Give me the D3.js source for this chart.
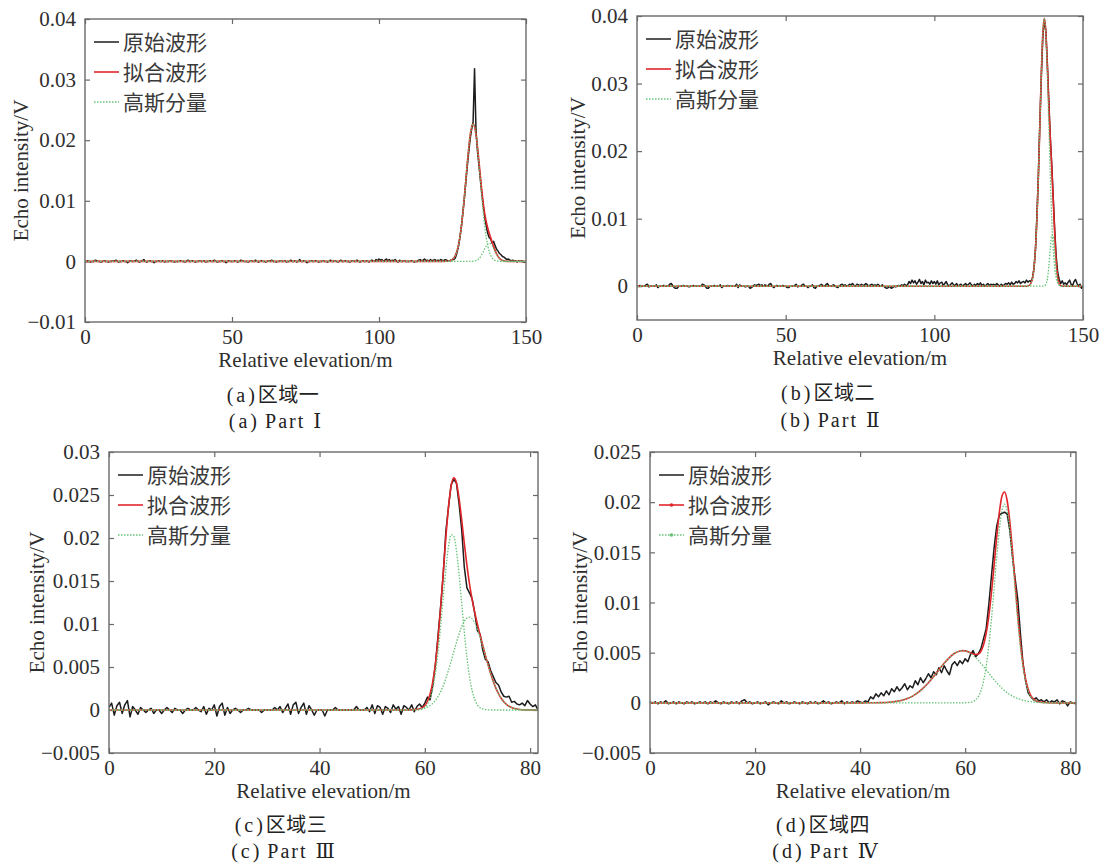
<!DOCTYPE html>
<html>
<head>
<meta charset="utf-8">
<script src="https://cdn.jsdelivr.net/npm/d3@7"></script>
<style>
  body { margin: 0; background: #fff; }
  svg { display: block; }
</style>
</head>
<body>
<svg id="fig" width="1103" height="868"></svg>
<script>
// Echo waveforms of four areas: raw return, fitted waveform and Gaussian components.
// Intensities are stored in mV, elevations in m.

// ---------- raw waveforms (one sample every rawStep metres, starting at 0 m) ----------
const rawStep = 0.5;

const rawA = [
  0,0,0.1,0,-0.1,0,0,0.2,0.1,0, 0,-0.1,0,0.1,0,0,-0.1,0,0,0.1,
  0,0.2,0,-0.1,0,0,0.1,0,0,-0.2, 0,0.1,0,0,0.1,0.2,0,-0.1,0,0.1,
  0.3,0,-0.1,0,0.1,0,0,-0.2,0,0, 0.1,0,0,0.1,-0.1,0,0,0,0.1,0,
  0,-0.1,0,0,0,0.1,0,0,-0.1,0, 0.2,0,0,0.1,0,-0.1,0,0,0.1,0,
  0,0.1,-0.1,0,0,0.1,0,0,0.2,0, -0.1,0,0,0.1,0,0,-0.2,0,0.1,0,
  0,0,0.1,0,-0.1,0,0.2,0.1,0,0, 0,-0.1,0,0.1,0,0,0.2,0,-0.1,0,
  0.1,0,0,-0.1,0,0.1,0,0.2,0,0, -0.1,0,0,0.1,0,0,0.1,-0.1,0,0,
  0.2,0,0,0.1,-0.1,0,0.3,0,0,0.1, 0,-0.2,0,0,0.1,0,0,0.1,0,-0.1,
  0,0,0.1,0,0,-0.1,0,0.2,0,0, 0.1,0,-0.1,0,0.2,0,0,0.1,0,0,
  -0.1,0,0.1,0,0,0.2,0,-0.1,0,0.1, 0,0,0.1,-0.1,0,0.2,0.1,0,0.3,0.1,
  0.4,0.2,0.3,0,0.2,0.4,0.1,0.3,0,0.2, 0.1,0.3,0,-0.1,0.2,0,0,0.1,0,0,
  0,0,0.1,0,-0.1,0,0,0.2,0.3,0.1, 0.2,0.4,0.1,0.2,0,0.3,0.1,0.2,0.3,0.1,
  0.2,0.1,0.3,0.2,0.1,0.3,0.2,0.1,0.1,0.2, 0.3,0.3,0.6,1.4,2.4,3.9,5.6,7.9,10.2,12.9,
  15.6,18.0,20.2,21.8,23.0,31.8,21.5,18.2,15.8,13.4, 11.0,9.0,7.2,5.8,4.6,3.9,3.7,3.0,3.3,2.6,
  2.0,1.7,1.3,1.1,0.8,0.7,0.5,0.3,0.4,0.2, 0.1,0.2,0,0.1,-0.1,0.1,0,0.1,0,-0.1,
  0
];

const rawB = [
  0,0,0.1,0,0,0,0.2,0.3,-0.1,0, 0,0,0,0.2,-0.2,0,0,0,0.1,0,
  0,0,0.3,0.4,0.1,-0.2,-0.3,-0.3,0,0, 0,0.1,0,0,0,-0.1,0,0,0.1,0,
  0,0,0,0,0.3,0.2,0,-0.3,-0.3,0, 0,0,0.1,0,0,0,0.2,-0.2,0,0,
  0,0.1,0,0,0,0,0,0.3,-0.2,0.2, 0,0,0,-0.1,0,0,-0.3,-0.2,0,0.2,
  0.1,0.2,0.3,0.1,0.2,0,0.2,0.1,0,0.3, 0.4,0,-0.2,0,0.1,0,0,0,0.1,0,
  0,-0.2,-0.2,0,0,0,0.1,0.3,-0.1,0, 0,0.2,0.3,0,0,-0.2,0,0,0.2,-0.2,
  -0.3,0,0,0.1,0.3,0.1,0,0.2,0.4,0.1, 0,0,0.2,0.1,-0.1,-0.2,0,0.2,0.3,0.1,
  0.2,0,0.1,0.3,0.2,0.4,0.1,0,0.3,0.2, 0.1,0.3,0.1,0.2,0.4,0.2,0,0.2,0.3,0.1,
  0.2,0.1,0.3,0.1,0,0.2,0,-0.2,-0.3,-0.2, 0,-0.3,-0.2,0,-0.1,0,0.1,0,0.2,0.1,
  0.3,0.1,0.2,0.7,0.4,0.9,0.5,0.8,0.3,0.6, 1.0,0.4,0.7,0.2,0.9,0.5,0.6,0.3,0.8,0.4,
  0.7,0.3,0.8,0.2,0.5,0.6,0.1,0.4,0.7,0.2, 0,0.3,0.5,0.2,0.1,0.4,0,0.2,0.3,0,
  0.2,0.4,0.1,0.3,0.5,0.2,0,0.3,0.1,0.4, 0.2,0.5,0.1,0.3,0,0.2,0.4,0.1,0.3,0.2,
  0.3,0.1,0.4,0.2,0,0.3,0.1,0.2,0.4,0.3, 0.5,0.2,0.6,0.3,0.4,0.7,0.5,0.8,0.4,0.6,
  0.7,0.5,0.9,0.6,0.8,0.7,1.2,2.6,5.4,10.4, 16.6,24.4,31.2,37.0,39.4,37.8,33.0,27.4,22.0,17.9,
  13.0,8.2,4.3,2.0,1.0,0.4,0.8,0.3,0.5,0.2, 0.6,0.9,0.3,0.1,0.7,1.0,0.4,0,0.3,-0.3,
  0
];

const rawC = [
  0.3,0.8,-0.6,0.5,0.9,-0.4,0.6,1.1,-0.8,0.4, 0,-0.5,0.3,0,-0.3,0,0.2,-0.4,0,0,
  -0.4,0,0.3,0,-0.3,0.2,0,0,-0.4,0, 0.2,0,0,0.3,0,-0.2,0.4,-0.5,0.2,0,
  0.6,-0.7,0.4,0.8,-0.6,0.3,-0.4,0,0.2,0, -0.3,0,0,0.2,0,0,0,0,-0.3,0,
  0,0,0,0.3,0,0.4,-0.3,0.2,0.7,-0.5, 0.6,0.9,-0.4,0.3,0.8,-0.5,0.5,0,-0.6,0,
  0,0,-0.7,0,0,0,0.3,0,0,0, 0,0,0,0,0.4,0,0,0,0.3,-0.2,
  0.6,-0.4,0.5,0.3,-0.5,0.4,0.2,-0.3,0.6,0.1, 0.4,-0.5,0.5,0.3,0,0.6,-0.2,0.4,0.7,0.3,
  0.8,1.5,1.2,2.8,5.2,8.6,12.0,15.8,20.8,23.6, 26.2,26.8,26.4,24.0,21.0,16.6,14.2,13.6,12.9,11.2,
  9.2,8.8,7.0,5.9,5.6,4.6,3.9,3.2,2.9,2.1, 1.6,1.5,1.6,0.9,1.0,0.7,0.6,0.8,0.5,1.1,
  0.7,0.4,0.6,0
];

const rawD = [
  0.1,0,0.1,-0.1,0.1,0,0.2,-0.1,0,0.1, -0.1,0.1,0,-0.1,0.1,0,0.1,-0.1,0,0.1,
  0,0.1,-0.1,0.1,0,0.2,0,-0.1,0.1,0, -0.1,0.1,0,0.1,-0.1,0.2,0.3,0,0.1,-0.1,
  0,0.1,-0.1,0,0.1,-0.2,0,0.1,0,-0.1, 0.2,0,0.1,-0.1,0,0.1,0,-0.1,0.1,0,
  -0.1,0.1,0,0.1,-0.1,0,0.2,0,0.1,-0.1, 0,0.1,0,0.2,-0.1,0.1,0,0.1,0,0.2,
  0.1,0,0.2,0.1,0.6,0.4,0.9,0.6,1.0,0.7, 1.2,0.8,1.4,1.1,1.6,1.2,1.5,1.9,1.3,1.7,
  1.5,2.2,1.8,2.5,2.0,2.4,2.9,2.5,3.1,2.8, 3.5,3.0,3.7,3.2,2.8,3.8,4.1,3.7,4.2,3.9,
  4.4,4.1,4.8,5.2,4.6,4.9,5.4,6.4,7.4,9.8, 12.6,15.4,17.6,18.7,18.9,19.0,18.8,17.2,14.6,12.4,
  10.4,7.0,4.0,2.2,1.0,0.6,0.3,0.5,0.2,0.3, 0.1,0.3,0,0.2,0.1,0.3,-0.1,0.2,0.1,-0.3,
  0.1,0,-0.1
];

// ---------- fitted waveforms: [elevation m, intensity mV] ----------
const fitA = [[0,0],[122,0],[123,0.02],[124,0.09],[125,0.32],[126,1.00],[127,2.59],[128,5.66],[129,10.40],
  [130,16.04],[131,20.81],[132,22.70],[133,20.94],[134,16.49],[135,11.54],[136,7.78],[137,5.48],[138,3.89],
  [139,2.44],[140,1.23],[141,0.47],[142,0.13],[143,0.03],[144,0],[150,0]];

const fitB = [[0,0],[131,0],[132,0.15],[132.5,0.44],[133,1.13],[133.5,2.60],[134,5.36],[134.5,9.88],[135,16.28],
  [135.5,24.02],[136,31.71],[136.5,37.46],[137,39.65],[137.5,37.73],[138,32.77],[138.5,26.90],[139,21.84],
  [139.5,17.47],[140,12.69],[140.5,7.61],[141,3.55],[141.5,1.27],[142,0.35],[142.5,0.07],[143,0.01],[144,0],[150,0]];

const fitC = [[0,0],[57,0],[58,0.04],[59,0.14],[59.5,0.27],[60,0.53],[60.5,1.02],[61,1.87],[61.5,3.25],[62,5.34],
  [62.5,8.22],[63,11.86],[63.5,15.97],[64,20.10],[64.5,23.64],[65,26.05],[65.5,26.99],[66,26.42],[66.5,24.63],
  [67,22.13],[67.5,19.39],[68,16.81],[68.5,14.61],[69,12.80],[69.5,11.29],[70,9.95],[70.5,8.72],[71,7.54],
  [71.5,6.38],[72,5.28],[72.5,4.26],[73,3.34],[73.5,2.55],[74,1.89],[74.5,1.37],[75,0.96],[75.5,0.66],[76,0.44],
  [76.5,0.28],[77,0.18],[77.5,0.11],[78,0.06],[79,0.02],[80,0.01],[81.5,0]];

const fitD = [[0,0],[40,0],[42,0.01],[44,0.02],[45,0.04],[46,0.08],[47,0.15],[48,0.26],[49,0.43],[50,0.67],
  [51,1.01],[52,1.46],[53,2.00],[54,2.62],[55,3.29],[56,3.94],[57,4.51],[58,4.94],[59,5.17],[59.5,5.20],[60,5.18],
  [61,5.00],[61.5,4.88],[62,4.81],[62.5,4.86],[63,5.14],[63.5,5.78],[64,6.92],[64.5,8.64],[65,10.95],[65.5,13.68],
  [66,16.50],[66.5,18.96],[67,20.59],[67.5,21.02],[68,20.14],[68.5,18.07],[69,15.17],[69.5,11.92],[70,8.76],
  [70.5,6.03],[71,3.89],[71.5,2.36],[72,1.35],[72.5,0.73],[73,0.38],[73.5,0.19],[74,0.10],[75,0.03],[76,0.01],[77,0],[81.1,0]];

// ---------- Gaussian components: [elevation m, intensity mV] ----------
const gaussA1 = [[0,0],[122,0],[123,0.02],[124,0.09],[125,0.32],[126,1.00],[127,2.59],[128,5.66],[129,10.40],
  [130,16.04],[131,20.81],[132,22.70],[133,20.81],[134,16.04],[135,10.40],[136,5.66],[137,2.59],[138,1.00],
  [139,0.32],[140,0.09],[141,0.02],[142,0],[150,0]];
const gaussA2 = [[0,0],[131,0],[132,0.03],[133,0.13],[134,0.45],[135,1.14],[136,2.12],[136.5,2.57],[137,2.89],
  [137.5,3.00],[138,2.89],[138.5,2.57],[139,2.12],[140,1.14],[141,0.45],[142,0.13],[143,0.03],[144,0],[150,0]];

const gaussB1 = [[0,0],[131,0],[132,0.15],[132.5,0.44],[133,1.13],[133.5,2.60],[134,5.36],[134.5,9.88],[135,16.28],
  [135.5,24.02],[136,31.71],[136.5,37.46],[137,39.60],[137.5,37.46],[138,31.71],[138.5,24.02],[139,16.28],
  [139.5,9.88],[140,5.36],[140.5,2.60],[141,1.13],[141.5,0.44],[142,0.15],[143,0.01],[144,0],[150,0]];
const gaussB2 = [[0,0],[136,0],[136.5,0.01],[137,0.05],[137.5,0.27],[138,1.06],[138.5,2.88],[139,5.56],[139.5,7.59],
  [140,7.33],[140.5,5.01],[141,2.42],[141.5,0.83],[142,0.20],[142.5,0.03],[143,0],[150,0]];

const gaussC1 = [[0,0],[58,0],[59,0.06],[59.5,0.14],[60,0.32],[60.5,0.68],[61,1.35],[61.5,2.48],[62,4.23],[62.5,6.66],
  [63,9.72],[63.5,13.13],[64,16.42],[64.5,19.00],[65,20.37],[65.5,20.22],[66,18.58],[66.5,15.79],[67,12.44],
  [67.5,9.07],[68,6.11],[68.5,3.82],[69,2.21],[69.5,1.19],[70,0.58],[70.5,0.27],[71,0.12],[71.5,0.05],[72,0.02],[73,0],[81.5,0]];
const gaussC2 = [[0,0],[56,0],[57,0.01],[58,0.03],[59,0.08],[59.5,0.13],[60,0.21],[60.5,0.34],[61,0.52],[61.5,0.77],
  [62,1.11],[62.5,1.56],[63,2.14],[63.5,2.84],[64,3.68],[64.5,4.64],[65,5.68],[65.5,6.77],[66,7.84],[66.5,8.84],
  [67,9.69],[67.5,10.32],[68,10.70],[68.5,10.79],[69,10.59],[69.5,10.10],[70,9.37],[70.5,8.45],[71,7.42],[71.5,6.33],
  [72,5.26],[72.5,4.25],[73,3.33],[73.5,2.55],[74,1.89],[74.5,1.37],[75,0.96],[75.5,0.66],[76,0.44],[76.5,0.28],
  [77,0.18],[77.5,0.11],[78,0.06],[79,0.02],[80,0.01],[81.5,0]];

const gaussD1 = [[0,0],[40,0],[42,0.01],[44,0.02],[45,0.04],[46,0.08],[47,0.15],[48,0.26],[49,0.43],[50,0.67],
  [51,1.01],[52,1.46],[53,2.00],[54,2.62],[55,3.29],[56,3.94],[57,4.51],[58,4.94],[59,5.17],[59.5,5.20],[60,5.17],
  [61,4.94],[62,4.51],[63,3.94],[64,3.29],[65,2.62],[66,2.00],[67,1.46],[68,1.01],[69,0.67],[70,0.43],[71,0.26],
  [72,0.15],[73,0.08],[74,0.04],[75,0.02],[77,0.01],[78,0],[81.1,0]];
const gaussD2 = [[0,0],[59,0],[60,0.01],[61,0.06],[61.5,0.13],[62,0.30],[62.5,0.62],[63,1.20],[63.5,2.16],[64,3.63],
  [64.5,5.69],[65,8.33],[65.5,11.38],[66,14.50],[66.5,17.24],[67,19.13],[67.5,19.80],[68,19.13],[68.5,17.24],
  [69,14.50],[69.5,11.38],[70,8.33],[70.5,5.69],[71,3.63],[71.5,2.16],[72,1.20],[72.5,0.62],[73,0.30],[73.5,0.13],
  [74,0.06],[75,0.01],[76,0],[81.1,0]];

// ---------- axis ticks (V and m) ----------
const xTicksLong  = [0, 50, 100, 150];
const xTicksShort = [0, 20, 40, 60, 80];
const yTicksA = [-0.01, 0, 0.01, 0.02, 0.03, 0.04];
const yTicksB = [0, 0.01, 0.02, 0.03, 0.04];
const yTicksC = [-0.005, 0, 0.005, 0.01, 0.015, 0.02, 0.025, 0.03];
const yTicksD = [-0.005, 0, 0.005, 0.01, 0.015, 0.02, 0.025];

// ---------- text ----------
const legendLabels = ["原始波形", "拟合波形", "高斯分量"];
const titleX = "Relative elevation/m";
const titleY = "Echo intensity/V";
const panelTags = ["(a)", "(b)", "(c)", "(d)"];
const panelNamesZh = ["区域一", "区域二", "区域三", "区域四"];
const panelNamesEn = ["Part", "Part", "Part", "Part"];
const panelNumerals = ["Ⅰ", "Ⅱ", "Ⅲ", "Ⅳ"];

// ---------- panel layout ----------
const panels = [
  { raw: rawA, fit: fitA, comps: [gaussA1, gaussA2], xDomain: [0, 150], yDomain: [-0.01, 0.04],
    xTicks: xTicksLong, yTicks: yTicksA, box: { l: 85, r: 526, t: 19, b: 322 },
    yTitleX: 21, capX: 273, capY: [395, 421], markers: false },
  { raw: rawB, fit: fitB, comps: [gaussB1, gaussB2], xDomain: [0, 150], yDomain: [-0.005, 0.04],
    xTicks: xTicksLong, yTicks: yTicksB, box: { l: 637, r: 1083, t: 16, b: 320 },
    yTitleX: 578, capX: 828, capY: [393, 420], markers: false },
  { raw: rawC, fit: fitC, comps: [gaussC1, gaussC2], xDomain: [0, 81.5], yDomain: [-0.005, 0.03],
    xTicks: xTicksShort, yTicks: yTicksC, box: { l: 109, r: 538, t: 452, b: 753 },
    yTitleX: 37, capX: 281, capY: [825, 851], markers: false },
  { raw: rawD, fit: fitD, comps: [gaussD1, gaussD2], xDomain: [0, 81.1], yDomain: [-0.005, 0.025],
    xTicks: xTicksShort, yTicks: yTicksD, box: { l: 650, r: 1076, t: 452, b: 753 },
    yTitleX: 580, capX: 823, capY: [825, 851], markers: true }
];

const colors = { raw: "#1c1c1c", fit: "#e0262a", comp: "#66c276", frame: "#6a6a6a", text: "#2e2e2e" };
const serif = "'Liberation Serif', 'Times New Roman', 'DejaVu Serif', 'Noto Sans CJK SC', serif";
const cjk = "'Noto Sans CJK SC', 'Liberation Serif', sans-serif";

const fmtTick = d => (d < 0 ? "\u2212" + String(-d) : String(d));
const toV = mv => mv / 1000;

const svg = d3.select("#fig");
const defs = svg.append("defs");

panels.forEach((p, k) => {
  const { l, r, t, b } = p.box;
  const x = d3.scaleLinear().domain(p.xDomain).range([l, r]);
  const y = d3.scaleLinear().domain(p.yDomain).range([b, t]);
  const g = svg.append("g");

  defs.append("clipPath").attr("id", "plotclip" + k)
    .append("rect").attr("x", l).attr("y", t - 1).attr("width", r - l).attr("height", b - t + 1);

  // axes with inward ticks on all four sides
  const tickLen = -5;
  const styleAxis = sel => {
    sel.select(".domain").remove();
    sel.selectAll(".tick line").attr("stroke", colors.frame).attr("stroke-width", 1.2);
    sel.selectAll(".tick text").attr("fill", colors.text).attr("font-family", serif).attr("font-size", 21);
  };
  g.append("g").attr("transform", `translate(0,${b})`)
    .call(d3.axisBottom(x).tickValues(p.xTicks).tickSize(tickLen).tickPadding(7).tickFormat(fmtTick))
    .call(styleAxis);
  g.append("g").attr("transform", `translate(0,${t})`)
    .call(d3.axisTop(x).tickValues(p.xTicks).tickSize(tickLen).tickFormat(""))
    .call(styleAxis);
  g.append("g").attr("transform", `translate(${l},0)`)
    .call(d3.axisLeft(y).tickValues(p.yTicks).tickSize(tickLen).tickPadding(9).tickFormat(fmtTick))
    .call(styleAxis);
  g.append("g").attr("transform", `translate(${r},0)`)
    .call(d3.axisRight(y).tickValues(p.yTicks).tickSize(tickLen).tickFormat(""))
    .call(styleAxis);

  // curves: raw return, fitted waveform, then the Gaussian components on top
  const plot = g.append("g").attr("clip-path", `url(#plotclip${k})`);
  const rawLine = d3.line().x((d, i) => x(i * rawStep)).y(d => y(toV(d)));
  const smooth = d3.line().x(d => x(d[0])).y(d => y(toV(d[1]))).curve(d3.curveMonotoneX);

  plot.append("path").datum(p.raw).attr("d", rawLine)
    .attr("fill", "none").attr("stroke", colors.raw).attr("stroke-width", 1.5).attr("stroke-linejoin", "round");
  plot.append("path").datum(p.fit).attr("d", smooth)
    .attr("fill", "none").attr("stroke", colors.fit).attr("stroke-width", 1.6);
  p.comps.forEach(c => {
    plot.append("path").datum(c).attr("d", smooth)
      .attr("fill", "none").attr("stroke", colors.comp).attr("stroke-width", 1.3)
      .attr("stroke-dasharray", "1.5,1.5");
  });

  // frame
  g.append("rect").attr("x", l).attr("y", t).attr("width", r - l).attr("height", b - t)
    .attr("fill", "none").attr("stroke", colors.frame).attr("stroke-width", 1.4);

  // legend
  const legendStyles = [
    { stroke: colors.raw, dash: null, w: 1.5 },
    { stroke: colors.fit, dash: null, w: 1.6 },
    { stroke: colors.comp, dash: "1.5,1.5", w: 1.4 }
  ];
  legendLabels.forEach((lab, i) => {
    const ly = t + 23 + i * 30;
    const st = legendStyles[i];
    g.append("line").attr("x1", l + 9).attr("x2", l + 34).attr("y1", ly).attr("y2", ly)
      .attr("stroke", st.stroke).attr("stroke-width", st.w).attr("stroke-dasharray", st.dash);
    if (p.markers && i > 0) {
      g.append("circle").attr("cx", l + 21.5).attr("cy", ly).attr("r", 1.8).attr("fill", st.stroke);
    }
    g.append("text").attr("x", l + 38).attr("y", ly).attr("dy", "0.36em")
      .attr("font-family", cjk).attr("font-size", 21).attr("fill", "#3a3a3a").text(lab);
  });

  // axis titles
  g.append("text").attr("x", (l + r) / 2).attr("y", b + 38).attr("dy", "0.35em")
    .attr("text-anchor", "middle").attr("font-family", serif).attr("font-size", 21)
    .attr("fill", colors.text).text(titleX);
  g.append("text").attr("transform", `translate(${p.yTitleX},${(t + b) / 2}) rotate(-90)`)
    .attr("dy", "0.35em").attr("text-anchor", "middle").attr("font-family", serif).attr("font-size", 21)
    .attr("fill", colors.text).text(titleY);

  // captions: Chinese line and English line
  const cap1 = g.append("text").attr("x", p.capX).attr("y", p.capY[0]).attr("dy", "0.36em")
    .attr("text-anchor", "middle").attr("font-family", serif).attr("font-size", 20).attr("fill", "#222");
  cap1.append("tspan").attr("letter-spacing", 3).text(panelTags[k]);
  cap1.append("tspan").attr("letter-spacing", 0.5).text(panelNamesZh[k]);

  const cap2 = g.append("text").attr("x", p.capX + 2).attr("y", p.capY[1]).attr("dy", "0.36em")
    .attr("text-anchor", "middle").attr("font-family", serif).attr("font-size", 20).attr("fill", "#222");
  cap2.append("tspan").attr("letter-spacing", 3).text(panelTags[k]);
  cap2.append("tspan").attr("dx", 5).attr("letter-spacing", 2).text(panelNamesEn[k]);
  cap2.append("tspan").attr("dx", 8).text(panelNumerals[k]);
});
</script>
</body>
</html>
